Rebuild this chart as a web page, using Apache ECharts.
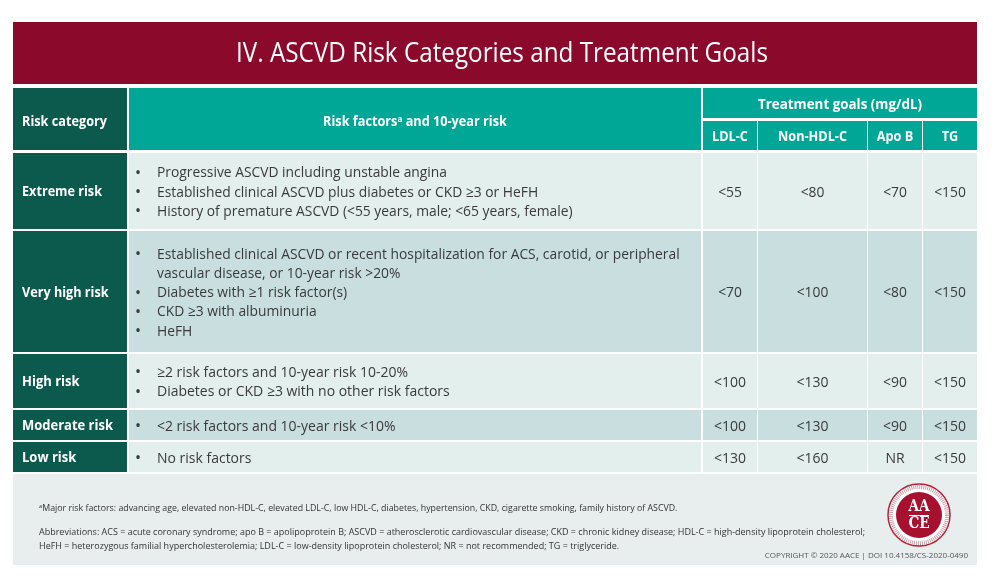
<!DOCTYPE html>
<html><head><meta charset="utf-8">
<script src="https://cdn.jsdelivr.net/npm/echarts@6/dist/echarts.min.js"></script>
<style>html,body{margin:0;padding:0;background:#fff}#c{width:1000px;height:585px}</style>
</head><body><div id="c"></div>
<script>
// ---------- data ----------
const title = 'IV. ASCVD Risk Categories and Treatment Goals';
const headerCategory = 'Risk category';
const headerFactors = ['Risk factors', 'a', ' and 10-year risk'];
const headerGoals = 'Treatment goals (mg/dL)';
const goalHeaders = ['LDL-C', 'Non-HDL-C', 'Apo B', 'TG'];
const categories = ['Extreme risk', 'Very high risk', 'High risk', 'Moderate risk', 'Low risk'];
const riskFactors = [
  [['Progressive ASCVD including unstable angina'],
   ['Established clinical ASCVD plus diabetes or CKD \u22653 or HeFH'],
   ['History of premature ASCVD (<55 years, male; <65 years, female)']],
  [['Established clinical ASCVD or recent hospitalization for ACS, carotid, or peripheral', 'vascular disease, or 10-year risk >20%'],
   ['Diabetes with \u22651 risk factor(s)'],
   ['CKD \u22653 with albuminuria'],
   ['HeFH']],
  [['\u22652 risk factors and 10-year risk 10-20%'],
   ['Diabetes or CKD \u22653 with no other risk factors']],
  [['<2 risk factors and 10-year risk <10%']],
  [['No risk factors']]
];
const ldlC   = ['<55', '<70', '<100', '<100', '<130'];
const nonHdl = ['<80', '<100', '<130', '<130', '<160'];
const apoB   = ['<70', '<80', '<90', '<90', 'NR'];
const tg     = ['<150', '<150', '<150', '<150', '<150'];
const footnoteMajor = ['a', 'Major risk factors: advancing age, elevated non-HDL-C, elevated LDL-C, low HDL-C, diabetes, hypertension, CKD, cigarette smoking, family history of ASCVD.'];
const abbreviations = [
  'Abbreviations: ACS = acute coronary syndrome; apo B = apolipoprotein B; ASCVD = atherosclerotic cardiovascular disease; CKD = chronic kidney disease; HDL-C = high-density lipoprotein cholesterol;',
  'HeFH = heterozygous familial hypercholesterolemia; LDL-C = low-density lipoprotein cholesterol; NR = not recommended; TG = triglyceride.'
];
const copyright = 'COPYRIGHT \u00A9 2020 AACE | DOI 10.4158/CS-2020-0490';

// ---------- layout / style ----------
const C = {
  title: '#8B0A2C', dark: '#0C5A4E', teal: '#00A797', light: '#E3EFEC', mid: '#C9DEDE',
  foot: '#E8EEEE', text: '#3A3A3A', white: '#FFFFFF'
};
const FF = '"Open Sans", "Noto Sans", sans-serif';
const bodyFont = '14.5px ' + FF;
const boldFont = 'bold 14px ' + FF;
const colX = [13, 127, 129, 702, 704, 757, 759, 867, 869, 922, 924, 977];
const rows = [[153, 229], [231, 352], [354, 408], [410, 440], [442, 472]];
const condensed = [false, false, true, true, true];
const rowFill = [C.light, C.mid, C.light, C.mid, C.light];
const dy = 1.5;

const ctx = document.createElement('canvas').getContext('2d');
function mw(t, f) { ctx.font = f; return ctx.measureText(t).width; }
const sBody = 290 / mw(riskFactors[0][0][0], bodyFont);
const sCond = 251 / mw(riskFactors[2][0][0], bodyFont);
const sLab = 80 / mw(categories[0], boldFont);
const sLabC = 91 / mw(categories[3], boldFont);
const sHead = 85 / mw(headerCategory, boldFont);

function txt(text, x, y, font, fill, align, sx, extra) {
  const st = Object.assign({ text, font, fill, textAlign: align || 'left', align: align || 'left',
    textVerticalAlign: 'middle', verticalAlign: 'middle' }, extra || {});
  return { type: 'text', x, y, scaleX: sx || 1, silent: true, style: st };
}
function rect(x1, y1, x2, y2, fill) {
  return { type: 'rect', silent: true, shape: { x: x1, y: y1, width: x2 - x1, height: y2 - y1 }, style: { fill } };
}

const els = [];
// title bar
els.push(rect(13, 22, 977, 84, C.title));
const titleFont = '27px ' + FF;
els.push(txt(title, 502, 54, titleFont, C.white, 'center', 532 / mw(title, titleFont)));

// header
els.push(rect(13, 88, 127, 150, C.dark));
els.push(rect(129, 88, 701, 150, C.teal));
els.push(rect(703, 88, 977, 118, C.teal));
els.push(txt(headerCategory, 22, 121 + dy, boldFont, C.white, 'left', sHead));
els.push({ type: 'text', x: 415, y: 121 + dy, scaleX: sHead, silent: true, style: {
  text: headerFactors[0] + '{s|' + headerFactors[1] + '}' + headerFactors[2], font: boldFont, fill: C.white,
  textAlign: 'center', align: 'center', textVerticalAlign: 'middle', verticalAlign: 'middle',
  rich: { s: { font: 'bold 9px ' + FF, fill: C.white, verticalAlign: 'top', padding: [0, 0, 6, 0] } }
}});
els.push(txt(headerGoals, (703 + 977) / 2, 104 + dy, boldFont, C.white, 'center', 164 / mw(headerGoals, boldFont)));
for (let j = 0; j < 4; j++) {
  const x1 = colX[4 + 2 * j] - 1, x2 = colX[5 + 2 * j];
  els.push(rect(x1, 121, x2, 150, C.teal));
  els.push(txt(goalHeaders[j], (x1 + x2) / 2, 136 + dy, boldFont, C.white, 'center', sHead));
}

// body rows
const goals = [ldlC, nonHdl, apoB, tg];
rows.forEach((r, i) => {
  const [y1, y2] = r, cy = (y1 + y2) / 2 + dy;
  const s = condensed[i] ? sCond : sBody;
  els.push(rect(13, y1, 127, y2, C.dark));
  els.push(txt(categories[i], 22, cy, boldFont, C.white, 'left', condensed[i] ? sLabC : sLab));
  els.push(rect(129, y1, 701, y2, rowFill[i]));
  const lines = [];
  riskFactors[i].forEach(b => b.forEach((l, k) => lines.push([l, k === 0])));
  const step = 19.2, y0 = cy - (lines.length - 1) * step / 2;
  lines.forEach((ln, k) => {
    const y = y0 + k * step;
    if (ln[1]) els.push(txt('\u2022', 135, y, '16px ' + FF, C.text, 'left'));
    els.push(txt(ln[0], 157, y, bodyFont, C.text, 'left', s));
  });
  for (let j = 0; j < 4; j++) {
    const x1 = colX[4 + 2 * j] - 1, x2 = colX[5 + 2 * j];
    els.push(rect(x1, y1, x2, y2, rowFill[i]));
    els.push(txt(goals[j][i], (x1 + x2) / 2, cy, bodyFont, C.text, 'center', s));
  }
});

// footer
els.push(rect(13, 474, 977, 565, C.foot));
const footFont = '9px ' + FF;
const sFoot = 826 / mw(abbreviations[0], footFont);
els.push({ type: 'text', x: 39, y: 508, scaleX: sFoot * 0.98, silent: true, style: {
  text: '{s|' + footnoteMajor[0] + '}' + footnoteMajor[1], font: footFont, fill: '#333',
  textAlign: 'left', align: 'left', textVerticalAlign: 'middle', verticalAlign: 'middle',
  rich: { s: { font: '6px ' + FF, fill: '#333', verticalAlign: 'top', padding: [0, 0, 4, 0] } }
}});
els.push(txt(abbreviations[0], 39, 532, footFont, '#333', 'left', sFoot));
els.push(txt(abbreviations[1], 39, 546, footFont, '#333', 'left', sFoot));
const cpFont = '8px ' + FF;
els.push(txt(copyright, 968, 556, cpFont, '#555', 'right', 1, { letterSpacing: 0.4 }));

// logo
const lx = 919, ly = 515;
els.push({ type: 'circle', silent: true, shape: { cx: lx, cy: ly, r: 31 }, style: { fill: '#fff', stroke: '#B5203A', lineWidth: 1.5 } });
els.push({ type: 'circle', silent: true, shape: { cx: lx, cy: ly, r: 28 }, style: { fill: 'none', stroke: '#C9A0A8', lineWidth: 4, lineDash: [1, 1] } });
els.push({ type: 'circle', silent: true, shape: { cx: lx, cy: ly, r: 23 }, style: { fill: '#A8102F' } });
els.push(txt('AA', lx, ly - 8, 'bold 16px "DejaVu Serif", serif', '#fff', 'center', 0.85));
els.push(txt('CE', lx, ly + 9, 'bold 16px "DejaVu Serif", serif', '#fff', 'center', 0.85));
els.push({ type: 'line', silent: true, shape: { x1: lx - 10, y1: ly + 0.5, x2: lx + 10, y2: ly + 0.5 }, style: { stroke: '#fff', lineWidth: 1 } });

const chart = echarts.init(document.getElementById('c'), null, { renderer: 'canvas' });
chart.setOption({ backgroundColor: '#fff', animation: false, graphic: { elements: els } });
</script></body></html>
